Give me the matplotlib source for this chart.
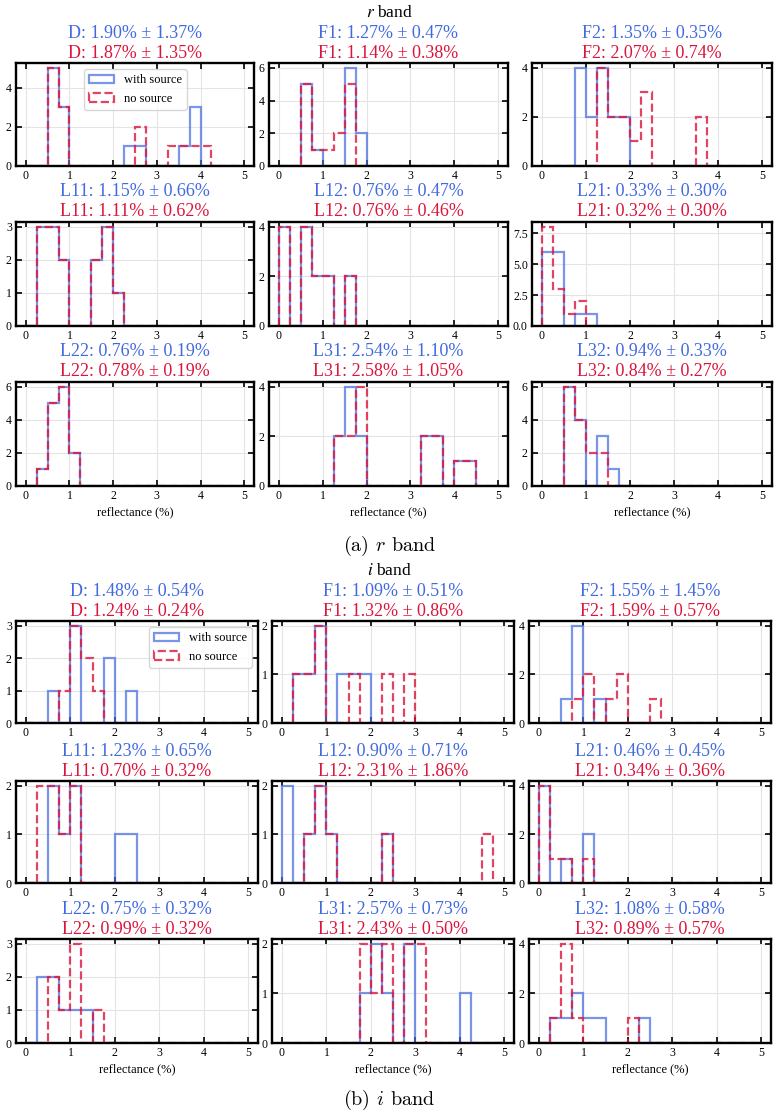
import numpy as np
import matplotlib
matplotlib.use("Agg")
import matplotlib.pyplot as plt

plt.rcParams["font.family"] = ["Liberation Serif", "DejaVu Serif"]
plt.rcParams["mathtext.fontset"] = "stix"

# Histogram bins: 0.25 % wide, 0 .. 5 %
edges = np.arange(0, 5.01, 0.25)
centers = edges[:-1] + 0.125
panels = ["D", "F1", "F2", "L11", "L12", "L21", "L22", "L31", "L32"]

# counts per bin, r band
r_with = {
    "D":   [0, 0, 5, 3, 0, 0, 0, 0, 0, 1, 1, 0, 0, 0, 1, 3, 0, 0, 0, 0],
    "F1":  [0, 0, 5, 1, 0, 0, 6, 2, 0, 0, 0, 0, 0, 0, 0, 0, 0, 0, 0, 0],
    "F2":  [0, 0, 0, 4, 2, 4, 2, 2, 0, 0, 0, 0, 0, 0, 0, 0, 0, 0, 0, 0],
    "L11": [0, 3, 3, 2, 0, 0, 2, 3, 1, 0, 0, 0, 0, 0, 0, 0, 0, 0, 0, 0],
    "L12": [4, 0, 4, 2, 2, 0, 2, 0, 0, 0, 0, 0, 0, 0, 0, 0, 0, 0, 0, 0],
    "L21": [6, 6, 0, 1, 1, 0, 0, 0, 0, 0, 0, 0, 0, 0, 0, 0, 0, 0, 0, 0],
    "L22": [0, 1, 5, 6, 2, 0, 0, 0, 0, 0, 0, 0, 0, 0, 0, 0, 0, 0, 0, 0],
    "L31": [0, 0, 0, 0, 0, 2, 4, 2, 0, 0, 0, 0, 0, 2, 2, 0, 1, 1, 0, 0],
    "L32": [0, 0, 6, 4, 0, 3, 1, 0, 0, 0, 0, 0, 0, 0, 0, 0, 0, 0, 0, 0],
}
r_no = {
    "D":   [0, 0, 5, 3, 0, 0, 0, 0, 0, 0, 2, 0, 0, 1, 1, 1, 1, 0, 0, 0],
    "F1":  [0, 0, 5, 1, 1, 2, 5, 0, 0, 0, 0, 0, 0, 0, 0, 0, 0, 0, 0, 0],
    "F2":  [0, 0, 0, 0, 0, 4, 2, 2, 1, 3, 0, 0, 0, 0, 2, 0, 0, 0, 0, 0],
    "L11": [0, 3, 3, 2, 0, 0, 2, 3, 1, 0, 0, 0, 0, 0, 0, 0, 0, 0, 0, 0],
    "L12": [4, 0, 4, 2, 2, 0, 2, 0, 0, 0, 0, 0, 0, 0, 0, 0, 0, 0, 0, 0],
    "L21": [8, 3, 1, 2, 0, 0, 0, 0, 0, 0, 0, 0, 0, 0, 0, 0, 0, 0, 0, 0],
    "L22": [0, 1, 5, 6, 2, 0, 0, 0, 0, 0, 0, 0, 0, 0, 0, 0, 0, 0, 0, 0],
    "L31": [0, 0, 0, 0, 0, 2, 2, 4, 0, 0, 0, 0, 0, 2, 2, 0, 1, 1, 0, 0],
    "L32": [0, 0, 6, 4, 2, 2, 0, 0, 0, 0, 0, 0, 0, 0, 0, 0, 0, 0, 0, 0],
}
# counts per bin, i band
i_with = {
    "D":   [0, 0, 1, 0, 3, 0, 0, 2, 0, 1, 0, 0, 0, 0, 0, 0, 0, 0, 0, 0],
    "F1":  [0, 1, 1, 2, 0, 1, 1, 1, 0, 0, 0, 0, 0, 0, 0, 0, 0, 0, 0, 0],
    "F2":  [0, 0, 1, 4, 0, 1, 0, 0, 0, 0, 0, 0, 0, 0, 0, 0, 0, 0, 0, 0],
    "L11": [0, 0, 2, 1, 2, 0, 0, 0, 1, 1, 0, 0, 0, 0, 0, 0, 0, 0, 0, 0],
    "L12": [2, 0, 1, 2, 1, 0, 0, 0, 0, 1, 0, 0, 0, 0, 0, 0, 0, 0, 0, 0],
    "L21": [4, 0, 1, 0, 2, 0, 0, 0, 0, 0, 0, 0, 0, 0, 0, 0, 0, 0, 0, 0],
    "L22": [0, 2, 2, 1, 1, 1, 0, 0, 0, 0, 0, 0, 0, 0, 0, 0, 0, 0, 0, 0],
    "L31": [0, 0, 0, 0, 0, 0, 0, 1, 2, 1, 0, 2, 0, 0, 0, 0, 1, 0, 0, 0],
    "L32": [0, 1, 1, 2, 1, 1, 0, 0, 0, 1, 0, 0, 0, 0, 0, 0, 0, 0, 0, 0],
}
i_no = {
    "D":   [0, 0, 0, 1, 3, 2, 1, 0, 0, 0, 0, 0, 0, 0, 0, 0, 0, 0, 0, 0],
    "F1":  [0, 1, 1, 2, 0, 0, 1, 0, 0, 1, 0, 1, 0, 0, 0, 0, 0, 0, 0, 0],
    "F2":  [0, 0, 0, 1, 2, 0, 1, 2, 0, 0, 1, 0, 0, 0, 0, 0, 0, 0, 0, 0],
    "L11": [0, 2, 2, 1, 2, 0, 0, 0, 0, 0, 0, 0, 0, 0, 0, 0, 0, 0, 0, 0],
    "L12": [0, 0, 1, 2, 1, 0, 0, 0, 0, 1, 0, 0, 0, 0, 0, 0, 0, 0, 1, 0],
    "L21": [4, 1, 1, 0, 1, 0, 0, 0, 0, 0, 0, 0, 0, 0, 0, 0, 0, 0, 0, 0],
    "L22": [0, 0, 2, 1, 3, 0, 1, 0, 0, 0, 0, 0, 0, 0, 0, 0, 0, 0, 0, 0],
    "L31": [0, 0, 0, 0, 0, 0, 0, 2, 1, 2, 0, 2, 2, 0, 0, 0, 0, 0, 0, 0],
    "L32": [0, 1, 4, 1, 0, 0, 0, 0, 1, 0, 0, 0, 0, 0, 0, 0, 0, 0, 0, 0],
}

# mean, std shown in titles
r_with_stats = {"D": (1.90, 1.37), "F1": (1.27, 0.47), "F2": (1.35, 0.35),
                "L11": (1.15, 0.66), "L12": (0.76, 0.47), "L21": (0.33, 0.30),
                "L22": (0.76, 0.19), "L31": (2.54, 1.10), "L32": (0.94, 0.33)}
r_no_stats = {"D": (1.87, 1.35), "F1": (1.14, 0.38), "F2": (2.07, 0.74),
              "L11": (1.11, 0.62), "L12": (0.76, 0.46), "L21": (0.32, 0.30),
              "L22": (0.78, 0.19), "L31": (2.58, 1.05), "L32": (0.84, 0.27)}
i_with_stats = {"D": (1.48, 0.54), "F1": (1.09, 0.51), "F2": (1.55, 1.45),
                "L11": (1.23, 0.65), "L12": (0.90, 0.71), "L21": (0.46, 0.45),
                "L22": (0.75, 0.32), "L31": (2.57, 0.73), "L32": (1.08, 0.58)}
i_no_stats = {"D": (1.24, 0.24), "F1": (1.32, 0.86), "F2": (1.59, 0.57),
              "L11": (0.70, 0.32), "L12": (2.31, 1.86), "L21": (0.34, 0.36),
              "L22": (0.99, 0.32), "L31": (2.43, 0.50), "L32": (0.89, 0.57)}

blue = "#4169E1"
red = "#DC143C"

W, H = 779, 1117
fig = plt.figure(figsize=(W / 100, H / 100), dpi=100)

# axes boxes in pixels: columns (left, right), rows (top, bottom)
r_cols = [(16, 254), (269, 508), (532, 772)]
r_rows = [(63, 166), (222, 326), (382, 486)]
i_cols = [(16, 258), (272, 514), (529, 771)]
i_rows = [(621, 723), (781, 883), (939, 1043)]


def draw_band(with_src, no_src, with_stats, no_stats, cols, rows, legend_loc):
    for k, name in enumerate(panels):
        (x0, x1), (t, b) = cols[k % 3], rows[k // 3]
        ax = fig.add_axes([x0 / W, 1 - b / H, (x1 - x0) / W, (b - t) / H])
        ax.hist(centers, bins=edges, weights=with_src[name], histtype="step",
                color=blue, alpha=0.7, lw=1.6, label="with source")
        ax.hist(centers, bins=edges, weights=no_src[name], histtype="step",
                color=red, alpha=0.8, lw=1.6, ls="--", label="no source")
        top = max(max(with_src[name]), max(no_src[name]))
        ax.set_xlim(-0.225, 5.225)
        ax.set_ylim(0, top * 1.05)
        ax.grid(True, color="#e4e4e4", lw=0.8)
        ax.set_axisbelow(True)
        ax.tick_params(direction="in", top=True, right=True, length=4, width=1.2,
                       labelsize=8.5, pad=3)
        for sp in ax.spines.values():
            sp.set_linewidth(1.7)
        m, s = with_stats[name]
        ax.annotate(f"{name}: {m:.2f}% \u00b1 {s:.2f}%", xy=(0.5, 1), xycoords="axes fraction",
                    xytext=(0, 21.6), textcoords="offset points", ha="center", va="center",
                    color=blue, fontsize=13)
        m, s = no_stats[name]
        ax.annotate(f"{name}: {m:.2f}% \u00b1 {s:.2f}%", xy=(0.5, 1), xycoords="axes fraction",
                    xytext=(0, 7.2), textcoords="offset points", ha="center", va="center",
                    color=red, fontsize=13)
        if k >= 6:
            ax.set_xlabel("reflectance (%)", fontsize=9, labelpad=3)
        if k == 0:
            ax.legend(loc=legend_loc, fontsize=9, handlelength=2.0)


draw_band(r_with, r_no, r_with_stats, r_no_stats, r_cols, r_rows, "upper center")
draw_band(i_with, i_no, i_with_stats, i_no_stats, i_cols, i_rows, "upper right")

fig.text(0.5, 1 - 13 / H, "$r$ band", ha="center", va="center", fontsize=12.5)
fig.text(0.5, 1 - 571 / H, "$i$ band", ha="center", va="center", fontsize=12.5)
fig.text(0.5, 1 - 546 / H, "(a) $r$ band", ha="center", va="center", fontsize=14.5,
         family="cmr10", math_fontfamily="cm")
fig.text(0.5, 1 - 1100 / H, "(b) $i$ band", ha="center", va="center", fontsize=14.5,
         family="cmr10", math_fontfamily="cm")

fig.savefig("out.png", dpi=100)
